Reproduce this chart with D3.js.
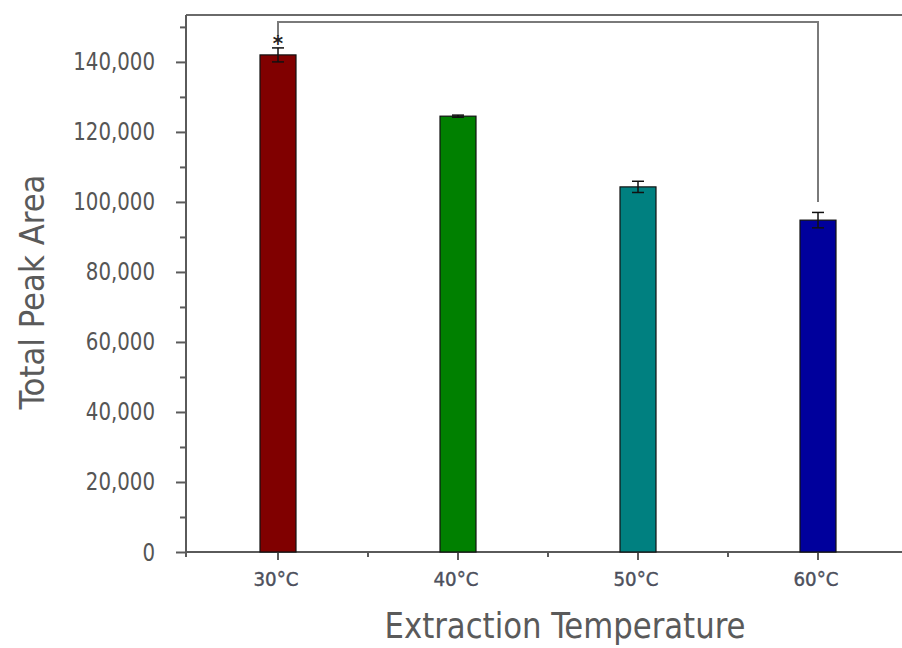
<!DOCTYPE html>
<html>
<head>
<meta charset="utf-8">
<script src="https://cdn.jsdelivr.net/npm/d3@7"></script>
<style>
body { margin: 0; background: #fff; }
svg { display: block; }
text { font-family: "Liberation Sans Narrow", "DejaVu Sans Condensed", "Arial Narrow", sans-serif; }
</style>
</head>
<body>
<svg id="chart" width="902" height="648"></svg>
<script>
const categories = ["30°C", "40°C", "50°C", "60°C"];
const values = [142000, 124500, 104300, 94800];
const errors = [2000, 300, 1600, 2200];
const colors = ["#800000", "#008000", "#008080", "#00009c"];
const yTicks = [0, 20000, 40000, 60000, 80000, 100000, 120000, 140000];
const yMinorTicks = [10000, 30000, 50000, 70000, 90000, 110000, 130000, 150000];
const yTitle = "Total Peak Area";
const xTitle = "Extraction Temperature";
const sigPair = [0, 3];
const sigLabel = "*";

const svg = d3.select("#chart");
const mLeft = 186, mTop = 15, mBottom = 552, mRight = 908;

const x = d3.scaleBand().domain(categories).range([mLeft + 2, mRight]).paddingInner(0.8).paddingOuter(0.4);
const y = d3.scaleLinear().domain([0, 153400]).range([mBottom, mTop]);

const axisColor = "#5a5a5a";
const textColor = "#555";

// frame top line
svg.append("line").attr("x1", mLeft).attr("x2", 902).attr("y1", mTop).attr("y2", mTop)
  .attr("stroke", "#6a6a6a").attr("stroke-width", 2);

// Y axis
const yAxis = d3.axisLeft(y).tickValues(yTicks).tickSize(10).tickPadding(21)
  .tickFormat(d3.format(","));
const gy = svg.append("g").attr("transform", `translate(${mLeft},0)`).call(yAxis);
gy.select(".domain").attr("stroke", axisColor).attr("stroke-width", 2).attr("d", `M0,${mTop}V${mBottom}`);
gy.selectAll(".tick line").attr("stroke", axisColor).attr("stroke-width", 2);
gy.selectAll(".tick text").attr("fill", textColor).attr("font-size", 22)
  .attr("dy", null).attr("y", 0)
  .attr("transform", "translate(0,8) scale(1,1.15)");
const gyMinor = svg.append("g").attr("transform", `translate(${mLeft},0)`)
  .call(d3.axisLeft(y).tickValues(yMinorTicks).tickSize(6).tickFormat(""));
gyMinor.select(".domain").remove();
gyMinor.selectAll(".tick line").attr("stroke", axisColor).attr("stroke-width", 2);

// X axis
const xAxis = d3.axisBottom(x).tickSize(8).tickPadding(12);
const gx = svg.append("g").attr("transform", `translate(0,${mBottom})`).call(xAxis);
gx.select(".domain").attr("stroke", axisColor).attr("stroke-width", 2).attr("d", `M${mLeft},0H${902}`);
gx.selectAll(".tick line").attr("stroke", axisColor).attr("stroke-width", 2);
gx.selectAll(".tick text").attr("fill", "#4d505c").attr("font-size", 20)
  .attr("stroke", "#4d505c").attr("stroke-width", 0.4)
  .attr("dx", -2).attr("textLength", 45).attr("lengthAdjust", "spacingAndGlyphs");
// minor x ticks at band boundaries
const boundaries = [mLeft].concat(categories.map(c => x(c) + x.bandwidth() / 2 + x.step() / 2));
svg.append("g").selectAll("line").data(boundaries.filter(b => b <= 902)).join("line")
  .attr("x1", d => d).attr("x2", d => d).attr("y1", mBottom).attr("y2", mBottom + 5)
  .attr("stroke", axisColor).attr("stroke-width", 2);

// bars
svg.append("g").selectAll("rect").data(categories).join("rect")
  .attr("x", d => x(d)).attr("width", x.bandwidth())
  .attr("y", (d, i) => y(values[i])).attr("height", (d, i) => y(0) - y(values[i]))
  .attr("fill", (d, i) => colors[i]).attr("stroke", "#111").attr("stroke-width", 1.2);

// error bars
const eg = svg.append("g").attr("stroke", "#111").attr("stroke-width", 1.5);
categories.forEach((c, i) => {
  const cx = x(c) + x.bandwidth() / 2;
  const y1 = y(values[i] + errors[i]), y2 = y(values[i] - errors[i]);
  eg.append("line").attr("x1", cx).attr("x2", cx).attr("y1", y1).attr("y2", y2);
  eg.append("line").attr("x1", cx - 6).attr("x2", cx + 6).attr("y1", y1).attr("y2", y1);
  eg.append("line").attr("x1", cx - 6).attr("x2", cx + 6).attr("y1", y2).attr("y2", y2);
});

// significance bracket
const xa = x(categories[sigPair[0]]) + x.bandwidth() / 2;
const xb = x(categories[sigPair[1]]) + x.bandwidth() / 2;
const yTop = y(151400);
svg.append("path")
  .attr("d", `M${xa},${y(147400)}V${yTop}H${xb}V${y(100000)}`)
  .attr("fill", "none").attr("stroke", "#7a7a7a").attr("stroke-width", 2);
svg.append("text").attr("x", xa).attr("y", y(144200) + 4).attr("text-anchor", "middle")
  .attr("font-size", 22).attr("font-weight", "bold").attr("fill", "#222").text(sigLabel);

// titles
svg.append("text").attr("transform", `translate(44,292) rotate(-90)`)
  .attr("text-anchor", "middle").attr("font-size", 34).attr("fill", "#5a5a5a")
  .attr("textLength", 235).attr("lengthAdjust", "spacingAndGlyphs").text(yTitle);
svg.append("text").attr("x", 565).attr("y", 638).attr("text-anchor", "middle")
  .attr("font-size", 36).attr("fill", "#5a5a5a")
  .attr("textLength", 361).attr("lengthAdjust", "spacingAndGlyphs").text(xTitle);
</script>
</body>
</html>
